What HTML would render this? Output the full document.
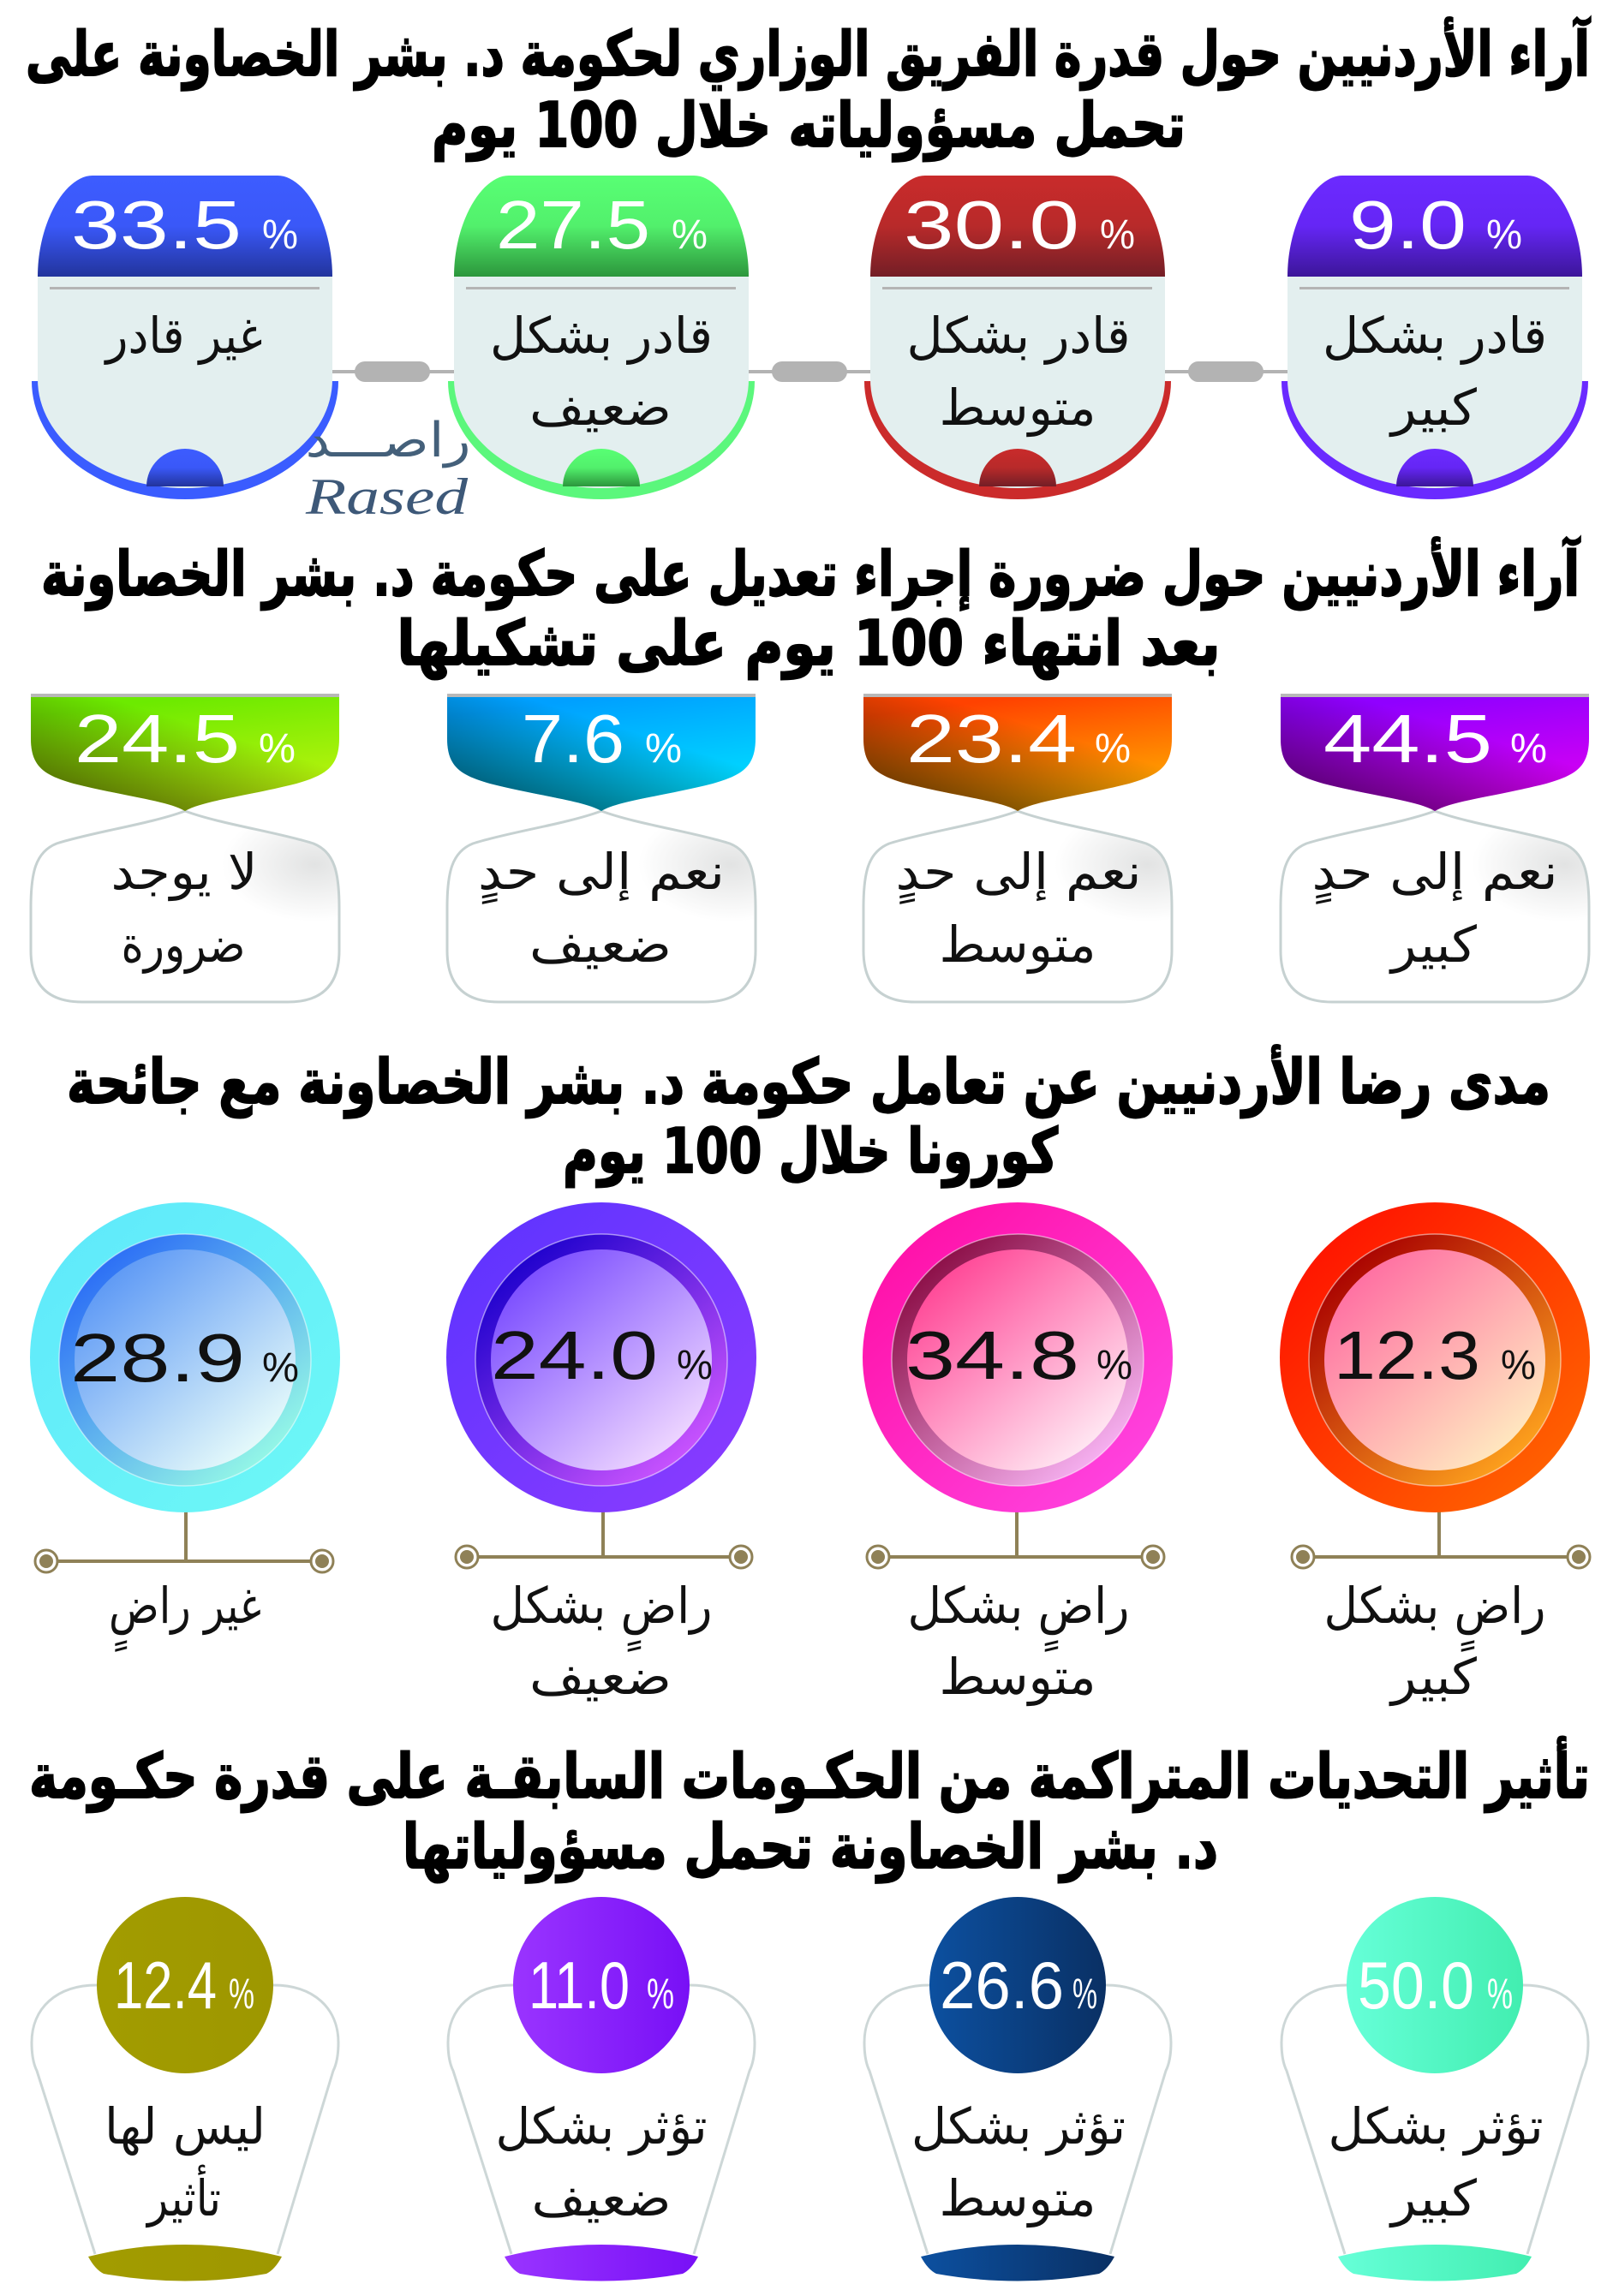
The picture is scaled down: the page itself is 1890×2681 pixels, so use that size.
<!DOCTYPE html>
<html>
<head>
<meta charset="utf-8">
<style>
html,body{margin:0;padding:0;background:#fff;}
svg{display:block;}
.t{font-family:"DejaVu Sans",sans-serif;font-weight:bold;font-size:72px;fill:#000;stroke:#000;stroke-width:2px;}
.l{font-family:"DejaVu Sans",sans-serif;font-size:58px;fill:#111;}
.n{font-family:"Liberation Sans",sans-serif;font-size:80px;}
.p{font-family:"Liberation Sans",sans-serif;font-size:48px;}
.n4{font-family:"Liberation Sans",sans-serif;font-size:78px;fill:#fff;}
.p4{font-family:"Liberation Sans",sans-serif;font-size:50px;fill:#fff;}
</style>
</head>
<body>
<svg xmlns="http://www.w3.org/2000/svg" width="1890" height="2681" viewBox="0 0 1890 2681">
<defs>
  <linearGradient id="hb" x1="0" y1="0" x2="0" y2="1"><stop offset="0" stop-color="#3d5cff"/><stop offset="0.5" stop-color="#3a58f8"/><stop offset="1" stop-color="#22349c"/></linearGradient>
  <linearGradient id="hg" x1="0" y1="0" x2="0" y2="1"><stop offset="0" stop-color="#58ff74"/><stop offset="0.5" stop-color="#52f06c"/><stop offset="1" stop-color="#2c963c"/></linearGradient>
  <linearGradient id="hr" x1="0" y1="0" x2="0" y2="1"><stop offset="0" stop-color="#c92b2b"/><stop offset="0.5" stop-color="#b82a2a"/><stop offset="1" stop-color="#731e26"/></linearGradient>
  <linearGradient id="hp" x1="0" y1="0" x2="0" y2="1"><stop offset="0" stop-color="#6c2aff"/><stop offset="0.5" stop-color="#6526f5"/><stop offset="1" stop-color="#3c1699"/></linearGradient>
  <linearGradient id="g1" x1="0.5" y1="0" x2="0.85" y2="1"><stop offset="0" stop-color="#6cea00"/><stop offset="1" stop-color="#c8f510"/></linearGradient>
  <linearGradient id="g2" x1="0.5" y1="0" x2="0.85" y2="1"><stop offset="0" stop-color="#00a0ff"/><stop offset="1" stop-color="#00e8ff"/></linearGradient>
  <linearGradient id="g3" x1="0.5" y1="0" x2="0.85" y2="1"><stop offset="0" stop-color="#ff4200"/><stop offset="1" stop-color="#ffb800"/></linearGradient>
  <linearGradient id="g4" x1="0.5" y1="0" x2="0.85" y2="1"><stop offset="0" stop-color="#9000ff"/><stop offset="1" stop-color="#e400f0"/></linearGradient>
  <linearGradient id="k1" x1="0" y1="1" x2="0.6" y2="0.3"><stop offset="0" stop-color="#3a4500" stop-opacity="0.95"/><stop offset="1" stop-color="#3a4500" stop-opacity="0"/></linearGradient>
  <linearGradient id="k2" x1="0" y1="1" x2="0.6" y2="0.3"><stop offset="0" stop-color="#003848" stop-opacity="0.95"/><stop offset="1" stop-color="#003848" stop-opacity="0"/></linearGradient>
  <linearGradient id="k3" x1="0" y1="1" x2="0.6" y2="0.3"><stop offset="0" stop-color="#3a2000" stop-opacity="0.95"/><stop offset="1" stop-color="#3a2000" stop-opacity="0"/></linearGradient>
  <linearGradient id="k4" x1="0" y1="1" x2="0.6" y2="0.3"><stop offset="0" stop-color="#38004a" stop-opacity="0.95"/><stop offset="1" stop-color="#38004a" stop-opacity="0"/></linearGradient>
  <radialGradient id="bub" cx="0.92" cy="0.28" r="0.3"><stop offset="0" stop-color="#e2e3e3"/><stop offset="1" stop-color="#ffffff"/></radialGradient>
  <linearGradient id="o1" x1="0" y1="0" x2="1" y2="1"><stop offset="0" stop-color="#5ee8fb"/><stop offset="1" stop-color="#6ef8f6"/></linearGradient>
  <linearGradient id="o2" x1="0" y1="0" x2="1" y2="1"><stop offset="0" stop-color="#5b33ff"/><stop offset="1" stop-color="#8d3cff"/></linearGradient>
  <linearGradient id="o3" x1="0" y1="0" x2="1" y2="1"><stop offset="0" stop-color="#ff0aa0"/><stop offset="1" stop-color="#ff4ae8"/></linearGradient>
  <linearGradient id="o4" x1="0" y1="0" x2="1" y2="1"><stop offset="0" stop-color="#ff0800"/><stop offset="1" stop-color="#ff6e00"/></linearGradient>
  <linearGradient id="r1" x1="0.15" y1="0.1" x2="0.85" y2="0.9"><stop offset="0" stop-color="#2a6cf6"/><stop offset="1" stop-color="#96fae6"/></linearGradient>
  <linearGradient id="r2" x1="0.15" y1="0.1" x2="0.85" y2="0.9"><stop offset="0" stop-color="#1c00cc"/><stop offset="1" stop-color="#cc55ff"/></linearGradient>
  <linearGradient id="r3" x1="0.15" y1="0.1" x2="0.85" y2="0.9"><stop offset="0" stop-color="#8a0c44"/><stop offset="1" stop-color="#f8b4f4"/></linearGradient>
  <linearGradient id="r4" x1="0.15" y1="0.1" x2="0.85" y2="0.9"><stop offset="0" stop-color="#a80000"/><stop offset="1" stop-color="#ffa41e"/></linearGradient>
  <linearGradient id="d1" x1="0.15" y1="0.1" x2="0.85" y2="0.9"><stop offset="0" stop-color="#5c98f5"/><stop offset="1" stop-color="#e8fcfa"/></linearGradient>
  <linearGradient id="d2" x1="0.15" y1="0.1" x2="0.85" y2="0.9"><stop offset="0" stop-color="#7a4cff"/><stop offset="1" stop-color="#f0d8ff"/></linearGradient>
  <linearGradient id="d3" x1="0.15" y1="0.1" x2="0.85" y2="0.9"><stop offset="0" stop-color="#ff4696"/><stop offset="1" stop-color="#ffeaf4"/></linearGradient>
  <linearGradient id="d4" x1="0.15" y1="0.1" x2="0.85" y2="0.9"><stop offset="0" stop-color="#ff6ea2"/><stop offset="1" stop-color="#ffeac0"/></linearGradient>
  <linearGradient id="s1" x1="0" y1="0" x2="1" y2="0"><stop offset="0" stop-color="#a29c00"/><stop offset="1" stop-color="#9e9700"/></linearGradient>
  <linearGradient id="s2" x1="0" y1="0" x2="1" y2="0"><stop offset="0" stop-color="#9a34ff"/><stop offset="1" stop-color="#7810f6"/></linearGradient>
  <linearGradient id="s3" x1="0" y1="0" x2="1" y2="0"><stop offset="0" stop-color="#0c50a0"/><stop offset="1" stop-color="#0a3064"/></linearGradient>
  <linearGradient id="s4" x1="0" y1="0" x2="1" y2="0"><stop offset="0" stop-color="#66ffd8"/><stop offset="1" stop-color="#42eeb0"/></linearGradient>
</defs>

<rect x="0" y="0" width="1890" height="2681" fill="#ffffff"/>

<!-- ================= SECTION 1 ================= -->
<text class="t" x="943" y="88" text-anchor="middle" direction="rtl" textLength="1826" lengthAdjust="spacingAndGlyphs">آراء الأردنيين حول قدرة الفريق الوزاري لحكومة د. بشر الخصاونة على</text>
<text class="t" x="944" y="171" text-anchor="middle" direction="rtl" textLength="880" lengthAdjust="spacingAndGlyphs">تحمل مسؤولياته خلال 100 يوم</text>

<g fill="#b3b3b3" stroke="none">
  <rect x="388" y="432" width="142" height="4"/>
  <rect x="874" y="432" width="142" height="4"/>
  <rect x="1360" y="432" width="143" height="4"/>
  <rect x="414" y="422" width="88" height="24" rx="12"/>
  <rect x="901" y="422" width="88" height="24" rx="12"/>
  <rect x="1387" y="422" width="88" height="24" rx="12"/>
</g>

<g transform="translate(216,0)">
  <path d="M-179,445 A179,138 0 0 0 179,445 Z" fill="#3a5cff"/>
  <path d="M-172,323 V443 A172,127 0 0 0 172,443 V323 Z" fill="#e3efef"/>
  <path d="M-172,323 C-172,260 -140,205 -108,205 H108 C140,205 172,260 172,323 Z" fill="url(#hb)"/>
  <rect x="-158" y="335" width="315" height="3" fill="#b4b4b4"/>
  <path d="M-45,568 A45,44 0 0 1 45,568 Z" fill="url(#hb)"/>
</g>
<g transform="translate(702,0)">
  <path d="M-179,445 A179,138 0 0 0 179,445 Z" fill="#5bf77c"/>
  <path d="M-172,323 V443 A172,127 0 0 0 172,443 V323 Z" fill="#e3efef"/>
  <path d="M-172,323 C-172,260 -140,205 -108,205 H108 C140,205 172,260 172,323 Z" fill="url(#hg)"/>
  <rect x="-158" y="335" width="315" height="3" fill="#b4b4b4"/>
  <path d="M-45,568 A45,44 0 0 1 45,568 Z" fill="url(#hg)"/>
</g>
<g transform="translate(1188,0)">
  <path d="M-179,445 A179,138 0 0 0 179,445 Z" fill="#cb2b2b"/>
  <path d="M-172,323 V443 A172,127 0 0 0 172,443 V323 Z" fill="#e3efef"/>
  <path d="M-172,323 C-172,260 -140,205 -108,205 H108 C140,205 172,260 172,323 Z" fill="url(#hr)"/>
  <rect x="-158" y="335" width="315" height="3" fill="#b4b4b4"/>
  <path d="M-45,568 A45,44 0 0 1 45,568 Z" fill="url(#hr)"/>
</g>
<g transform="translate(1675,0)">
  <path d="M-179,445 A179,138 0 0 0 179,445 Z" fill="#6a2aff"/>
  <path d="M-172,323 V443 A172,127 0 0 0 172,443 V323 Z" fill="#e3efef"/>
  <path d="M-172,323 C-172,260 -140,205 -108,205 H108 C140,205 172,260 172,323 Z" fill="url(#hp)"/>
  <rect x="-158" y="335" width="315" height="3" fill="#b4b4b4"/>
  <path d="M-45,568 A45,44 0 0 1 45,568 Z" fill="url(#hp)"/>
</g>

<g fill="#ffffff">
  <text class="n" x="83" y="290" textLength="199" lengthAdjust="spacingAndGlyphs">33.5</text>
  <text class="p" x="306" y="290" textLength="42" lengthAdjust="spacingAndGlyphs">%</text>
  <text class="n" x="579" y="290" textLength="180" lengthAdjust="spacingAndGlyphs">27.5</text>
  <text class="p" x="784" y="290" textLength="42" lengthAdjust="spacingAndGlyphs">%</text>
  <text class="n" x="1055" y="290" textLength="205" lengthAdjust="spacingAndGlyphs">30.0</text>
  <text class="p" x="1284" y="290" textLength="41" lengthAdjust="spacingAndGlyphs">%</text>
  <text class="n" x="1575" y="290" textLength="137" lengthAdjust="spacingAndGlyphs">9.0</text>
  <text class="p" x="1735" y="290" textLength="42" lengthAdjust="spacingAndGlyphs">%</text>
</g>
<text class="l" x="215" y="412" text-anchor="middle" direction="rtl" textLength="183" lengthAdjust="spacingAndGlyphs">غير قادر</text>
<text class="l" x="702" y="412" text-anchor="middle" direction="rtl" textLength="260" lengthAdjust="spacingAndGlyphs">قادر بشكل</text>
<text class="l" x="701" y="496" text-anchor="middle" direction="rtl" textLength="166" lengthAdjust="spacingAndGlyphs">ضعيف</text>
<text class="l" x="1189" y="412" text-anchor="middle" direction="rtl" textLength="261" lengthAdjust="spacingAndGlyphs">قادر بشكل</text>
<text class="l" x="1188" y="496" text-anchor="middle" direction="rtl" textLength="183" lengthAdjust="spacingAndGlyphs">متوسط</text>
<text class="l" x="1675" y="412" text-anchor="middle" direction="rtl" textLength="262" lengthAdjust="spacingAndGlyphs">قادر بشكل</text>
<text class="l" x="1674" y="496" text-anchor="middle" direction="rtl" textLength="100" lengthAdjust="spacingAndGlyphs">كبير</text>

<text x="453" y="533" text-anchor="middle" direction="rtl" textLength="193" lengthAdjust="spacingAndGlyphs" style="font-family:'DejaVu Sans',sans-serif;font-size:56px;fill:#44607a;">راصـــد</text>
<text x="357" y="600" textLength="189" lengthAdjust="spacingAndGlyphs" style="font-family:'Liberation Serif',serif;font-style:italic;font-size:60px;fill:#3d5878;">Rased</text>

<!-- ================= SECTION 2 ================= -->
<text class="t" x="946" y="695" text-anchor="middle" direction="rtl" textLength="1796" lengthAdjust="spacingAndGlyphs">آراء الأردنيين حول ضرورة إجراء تعديل على حكومة د. بشر الخصاونة</text>
<text class="t" x="944" y="776" text-anchor="middle" direction="rtl" textLength="961" lengthAdjust="spacingAndGlyphs">بعد انتهاء 100 يوم على تشكيلها</text>

<g transform="translate(216,0)">
  <path d="M0,947 C-40,962 -110,972 -150,985 C-175,995 -180,1020 -180,1060 L-180,1110 C-180,1150 -160,1170 -120,1170 L120,1170 C160,1170 180,1150 180,1110 L180,1060 C180,1020 175,995 150,985 C110,972 40,962 0,947 Z" fill="url(#bub)" stroke="#c6d1d1" stroke-width="3"/>
  <rect x="-180" y="810" width="360" height="5" fill="#b8b8b8"/>
  <path d="M-180,814 H180 V862 C180,895 165,905 130,915 C70,930 20,935 0,947 C-20,935 -70,930 -130,915 C-165,905 -180,895 -180,862 Z" fill="url(#g1)"/>
  <path d="M-180,814 H180 V862 C180,895 165,905 130,915 C70,930 20,935 0,947 C-20,935 -70,930 -130,915 C-165,905 -180,895 -180,862 Z" fill="url(#k1)"/>
</g>
<g transform="translate(702,0)">
  <path d="M0,947 C-40,962 -110,972 -150,985 C-175,995 -180,1020 -180,1060 L-180,1110 C-180,1150 -160,1170 -120,1170 L120,1170 C160,1170 180,1150 180,1110 L180,1060 C180,1020 175,995 150,985 C110,972 40,962 0,947 Z" fill="url(#bub)" stroke="#c6d1d1" stroke-width="3"/>
  <rect x="-180" y="810" width="360" height="5" fill="#b8b8b8"/>
  <path d="M-180,814 H180 V862 C180,895 165,905 130,915 C70,930 20,935 0,947 C-20,935 -70,930 -130,915 C-165,905 -180,895 -180,862 Z" fill="url(#g2)"/>
  <path d="M-180,814 H180 V862 C180,895 165,905 130,915 C70,930 20,935 0,947 C-20,935 -70,930 -130,915 C-165,905 -180,895 -180,862 Z" fill="url(#k2)"/>
</g>
<g transform="translate(1188,0)">
  <path d="M0,947 C-40,962 -110,972 -150,985 C-175,995 -180,1020 -180,1060 L-180,1110 C-180,1150 -160,1170 -120,1170 L120,1170 C160,1170 180,1150 180,1110 L180,1060 C180,1020 175,995 150,985 C110,972 40,962 0,947 Z" fill="url(#bub)" stroke="#c6d1d1" stroke-width="3"/>
  <rect x="-180" y="810" width="360" height="5" fill="#b8b8b8"/>
  <path d="M-180,814 H180 V862 C180,895 165,905 130,915 C70,930 20,935 0,947 C-20,935 -70,930 -130,915 C-165,905 -180,895 -180,862 Z" fill="url(#g3)"/>
  <path d="M-180,814 H180 V862 C180,895 165,905 130,915 C70,930 20,935 0,947 C-20,935 -70,930 -130,915 C-165,905 -180,895 -180,862 Z" fill="url(#k3)"/>
</g>
<g transform="translate(1675,0)">
  <path d="M0,947 C-40,962 -110,972 -150,985 C-175,995 -180,1020 -180,1060 L-180,1110 C-180,1150 -160,1170 -120,1170 L120,1170 C160,1170 180,1150 180,1110 L180,1060 C180,1020 175,995 150,985 C110,972 40,962 0,947 Z" fill="url(#bub)" stroke="#c6d1d1" stroke-width="3"/>
  <rect x="-180" y="810" width="360" height="5" fill="#b8b8b8"/>
  <path d="M-180,814 H180 V862 C180,895 165,905 130,915 C70,930 20,935 0,947 C-20,935 -70,930 -130,915 C-165,905 -180,895 -180,862 Z" fill="url(#g4)"/>
  <path d="M-180,814 H180 V862 C180,895 165,905 130,915 C70,930 20,935 0,947 C-20,935 -70,930 -130,915 C-165,905 -180,895 -180,862 Z" fill="url(#k4)"/>
</g>

<g fill="#ffffff">
  <text class="n" x="87" y="890" textLength="193" lengthAdjust="spacingAndGlyphs">24.5</text>
  <text class="p" x="302" y="890" textLength="43" lengthAdjust="spacingAndGlyphs">%</text>
  <text class="n" x="609" y="890" textLength="120" lengthAdjust="spacingAndGlyphs">7.6</text>
  <text class="p" x="753" y="890" textLength="43" lengthAdjust="spacingAndGlyphs">%</text>
  <text class="n" x="1058" y="890" textLength="199" lengthAdjust="spacingAndGlyphs">23.4</text>
  <text class="p" x="1278" y="890" textLength="42" lengthAdjust="spacingAndGlyphs">%</text>
  <text class="n" x="1545" y="890" textLength="197" lengthAdjust="spacingAndGlyphs">44.5</text>
  <text class="p" x="1763" y="890" textLength="43" lengthAdjust="spacingAndGlyphs">%</text>
</g>

<text class="l" x="215" y="1038" text-anchor="middle" direction="rtl" textLength="171" lengthAdjust="spacingAndGlyphs">لا يوجد</text>
<text class="l" x="214" y="1123" text-anchor="middle" direction="rtl" textLength="145" lengthAdjust="spacingAndGlyphs">ضرورة</text>
<text class="l" x="702" y="1038" text-anchor="middle" direction="rtl" textLength="288" lengthAdjust="spacingAndGlyphs">نعم إلى حدٍ</text>
<text class="l" x="701" y="1123" text-anchor="middle" direction="rtl" textLength="166" lengthAdjust="spacingAndGlyphs">ضعيف</text>
<text class="l" x="1189" y="1038" text-anchor="middle" direction="rtl" textLength="287" lengthAdjust="spacingAndGlyphs">نعم إلى حدٍ</text>
<text class="l" x="1188" y="1123" text-anchor="middle" direction="rtl" textLength="183" lengthAdjust="spacingAndGlyphs">متوسط</text>
<text class="l" x="1675" y="1038" text-anchor="middle" direction="rtl" textLength="287" lengthAdjust="spacingAndGlyphs">نعم إلى حدٍ</text>
<text class="l" x="1674" y="1123" text-anchor="middle" direction="rtl" textLength="100" lengthAdjust="spacingAndGlyphs">كبير</text>

<!-- ================= SECTION 3 ================= -->
<text class="t" x="944" y="1288" text-anchor="middle" direction="rtl" textLength="1732" lengthAdjust="spacingAndGlyphs">مدى رضا الأردنيين عن تعامل حكومة د. بشر الخصاونة مع جائحة</text>
<text class="t" x="946" y="1369" text-anchor="middle" direction="rtl" textLength="578" lengthAdjust="spacingAndGlyphs">كورونا خلال 100 يوم</text>

<g stroke="#8f8157" stroke-width="4" fill="none">
  <line x1="217" y1="1760" x2="217" y2="1823"/>
  <line x1="54" y1="1823" x2="376" y2="1823"/>
  <line x1="704" y1="1760" x2="704" y2="1818"/>
  <line x1="545" y1="1818" x2="865" y2="1818"/>
  <line x1="1187" y1="1760" x2="1187" y2="1818"/>
  <line x1="1025" y1="1818" x2="1346" y2="1818"/>
  <line x1="1680" y1="1760" x2="1680" y2="1818"/>
  <line x1="1521" y1="1818" x2="1843" y2="1818"/>
</g>
<g stroke="#8f8157" stroke-width="3" fill="#ffffff">
  <circle cx="54" cy="1823" r="13"/><circle cx="376" cy="1823" r="13"/>
  <circle cx="545" cy="1818" r="13"/><circle cx="865" cy="1818" r="13"/>
  <circle cx="1025" cy="1818" r="13"/><circle cx="1346" cy="1818" r="13"/>
  <circle cx="1521" cy="1818" r="13"/><circle cx="1843" cy="1818" r="13"/>
</g>
<g fill="#8f8157">
  <circle cx="54" cy="1823" r="8"/><circle cx="376" cy="1823" r="8"/>
  <circle cx="545" cy="1818" r="8"/><circle cx="865" cy="1818" r="8"/>
  <circle cx="1025" cy="1818" r="8"/><circle cx="1346" cy="1818" r="8"/>
  <circle cx="1521" cy="1818" r="8"/><circle cx="1843" cy="1818" r="8"/>
</g>

<g>
  <circle cx="216" cy="1585" r="181" fill="url(#o1)"/>
  <circle cx="216" cy="1588" r="147" fill="url(#r1)" stroke="#ffffff" stroke-opacity="0.5" stroke-width="1.5"/>
  <circle cx="216" cy="1588" r="129" fill="url(#d1)"/>
  <circle cx="702" cy="1585" r="181" fill="url(#o2)"/>
  <circle cx="702" cy="1588" r="147" fill="url(#r2)" stroke="#ffffff" stroke-opacity="0.5" stroke-width="1.5"/>
  <circle cx="702" cy="1588" r="129" fill="url(#d2)"/>
  <circle cx="1188" cy="1585" r="181" fill="url(#o3)"/>
  <circle cx="1188" cy="1588" r="147" fill="url(#r3)" stroke="#ffffff" stroke-opacity="0.5" stroke-width="1.5"/>
  <circle cx="1188" cy="1588" r="129" fill="url(#d3)"/>
  <circle cx="1675" cy="1585" r="181" fill="url(#o4)"/>
  <circle cx="1675" cy="1588" r="147" fill="url(#r4)" stroke="#ffffff" stroke-opacity="0.5" stroke-width="1.5"/>
  <circle cx="1675" cy="1588" r="129" fill="url(#d4)"/>
</g>

<g fill="#111111">
  <text class="n" x="82" y="1613" textLength="204" lengthAdjust="spacingAndGlyphs">28.9</text>
  <text class="p" x="306" y="1613" textLength="43" lengthAdjust="spacingAndGlyphs">%</text>
  <text class="n" x="573" y="1610" textLength="195" lengthAdjust="spacingAndGlyphs">24.0</text>
  <text class="p" x="790" y="1610" textLength="42" lengthAdjust="spacingAndGlyphs">%</text>
  <text class="n" x="1057" y="1610" textLength="203" lengthAdjust="spacingAndGlyphs">34.8</text>
  <text class="p" x="1280" y="1610" textLength="42" lengthAdjust="spacingAndGlyphs">%</text>
  <text class="n" x="1557" y="1610" textLength="171" lengthAdjust="spacingAndGlyphs">12.3</text>
  <text class="p" x="1752" y="1610" textLength="41" lengthAdjust="spacingAndGlyphs">%</text>
</g>

<text class="l" x="216" y="1895" text-anchor="middle" direction="rtl" textLength="178" lengthAdjust="spacingAndGlyphs">غير راضٍ</text>
<text class="l" x="702" y="1895" text-anchor="middle" direction="rtl" textLength="259" lengthAdjust="spacingAndGlyphs">راضٍ بشكل</text>
<text class="l" x="701" y="1978" text-anchor="middle" direction="rtl" textLength="166" lengthAdjust="spacingAndGlyphs">ضعيف</text>
<text class="l" x="1189" y="1895" text-anchor="middle" direction="rtl" textLength="259" lengthAdjust="spacingAndGlyphs">راضٍ بشكل</text>
<text class="l" x="1188" y="1978" text-anchor="middle" direction="rtl" textLength="183" lengthAdjust="spacingAndGlyphs">متوسط</text>
<text class="l" x="1675" y="1895" text-anchor="middle" direction="rtl" textLength="259" lengthAdjust="spacingAndGlyphs">راضٍ بشكل</text>
<text class="l" x="1674" y="1978" text-anchor="middle" direction="rtl" textLength="100" lengthAdjust="spacingAndGlyphs">كبير</text>

<!-- ================= SECTION 4 ================= -->
<text class="t" x="945" y="2099" text-anchor="middle" direction="rtl" textLength="1822" lengthAdjust="spacingAndGlyphs">تأثير التحديات المتراكمة من الحكـومات السابقـة على قدرة حكـومة</text>
<text class="t" x="946" y="2181" text-anchor="middle" direction="rtl" textLength="952" lengthAdjust="spacingAndGlyphs">د. بشر الخصاونة تحمل مسؤولياتها</text>

<g transform="translate(216,0)">
  <path d="M-103,2318 C-150,2318 -179,2345 -179,2385 C-179,2400 -177,2410 -173,2418 L-105,2632 M103,2318 C150,2318 179,2345 179,2385 C179,2400 177,2410 173,2418 L108,2632" fill="none" stroke="#cdd7d7" stroke-width="3"/>
  <path d="M-113,2635 Q0,2607 113,2635 Q105,2650 95,2655 Q0,2672 -95,2655 Q-105,2650 -113,2635 Z" fill="url(#s1)"/>
  <circle cx="0" cy="2318" r="103" fill="url(#s1)"/>
</g>
<g transform="translate(702,0)">
  <path d="M-103,2318 C-150,2318 -179,2345 -179,2385 C-179,2400 -177,2410 -173,2418 L-105,2632 M103,2318 C150,2318 179,2345 179,2385 C179,2400 177,2410 173,2418 L108,2632" fill="none" stroke="#cdd7d7" stroke-width="3"/>
  <path d="M-113,2635 Q0,2607 113,2635 Q105,2650 95,2655 Q0,2672 -95,2655 Q-105,2650 -113,2635 Z" fill="url(#s2)"/>
  <circle cx="0" cy="2318" r="103" fill="url(#s2)"/>
</g>
<g transform="translate(1188,0)">
  <path d="M-103,2318 C-150,2318 -179,2345 -179,2385 C-179,2400 -177,2410 -173,2418 L-105,2632 M103,2318 C150,2318 179,2345 179,2385 C179,2400 177,2410 173,2418 L108,2632" fill="none" stroke="#cdd7d7" stroke-width="3"/>
  <path d="M-113,2635 Q0,2607 113,2635 Q105,2650 95,2655 Q0,2672 -95,2655 Q-105,2650 -113,2635 Z" fill="url(#s3)"/>
  <circle cx="0" cy="2318" r="103" fill="url(#s3)"/>
</g>
<g transform="translate(1675,0)">
  <path d="M-103,2318 C-150,2318 -179,2345 -179,2385 C-179,2400 -177,2410 -173,2418 L-105,2632 M103,2318 C150,2318 179,2345 179,2385 C179,2400 177,2410 173,2418 L108,2632" fill="none" stroke="#cdd7d7" stroke-width="3"/>
  <path d="M-113,2635 Q0,2607 113,2635 Q105,2650 95,2655 Q0,2672 -95,2655 Q-105,2650 -113,2635 Z" fill="url(#s4)"/>
  <circle cx="0" cy="2318" r="103" fill="url(#s4)"/>
</g>

<text class="n4" x="133" y="2345" textLength="120" lengthAdjust="spacingAndGlyphs">12.4</text>
<text class="p4" x="267" y="2345" textLength="30" lengthAdjust="spacingAndGlyphs">%</text>
<text class="n4" x="617" y="2345" textLength="118" lengthAdjust="spacingAndGlyphs">11.0</text>
<text class="p4" x="755" y="2345" textLength="32" lengthAdjust="spacingAndGlyphs">%</text>
<text class="n4" x="1097" y="2345" textLength="145" lengthAdjust="spacingAndGlyphs">26.6</text>
<text class="p4" x="1252" y="2345" textLength="29" lengthAdjust="spacingAndGlyphs">%</text>
<text class="n4" x="1585" y="2345" textLength="136" lengthAdjust="spacingAndGlyphs">50.0</text>
<text class="p4" x="1736" y="2345" textLength="30" lengthAdjust="spacingAndGlyphs">%</text>

<text class="l" x="216" y="2503" text-anchor="middle" direction="rtl" textLength="188" lengthAdjust="spacingAndGlyphs">ليس لها</text>
<text class="l" x="215" y="2587" text-anchor="middle" direction="rtl" textLength="86" lengthAdjust="spacingAndGlyphs">تأثير</text>
<text class="l" x="702" y="2503" text-anchor="middle" direction="rtl" textLength="247" lengthAdjust="spacingAndGlyphs">تؤثر بشكل</text>
<text class="l" x="702" y="2587" text-anchor="middle" direction="rtl" textLength="163" lengthAdjust="spacingAndGlyphs">ضعيف</text>
<text class="l" x="1189" y="2503" text-anchor="middle" direction="rtl" textLength="250" lengthAdjust="spacingAndGlyphs">تؤثر بشكل</text>
<text class="l" x="1188" y="2587" text-anchor="middle" direction="rtl" textLength="183" lengthAdjust="spacingAndGlyphs">متوسط</text>
<text class="l" x="1676" y="2503" text-anchor="middle" direction="rtl" textLength="251" lengthAdjust="spacingAndGlyphs">تؤثر بشكل</text>
<text class="l" x="1674" y="2587" text-anchor="middle" direction="rtl" textLength="100" lengthAdjust="spacingAndGlyphs">كبير</text>

</svg>
</body>
</html>
